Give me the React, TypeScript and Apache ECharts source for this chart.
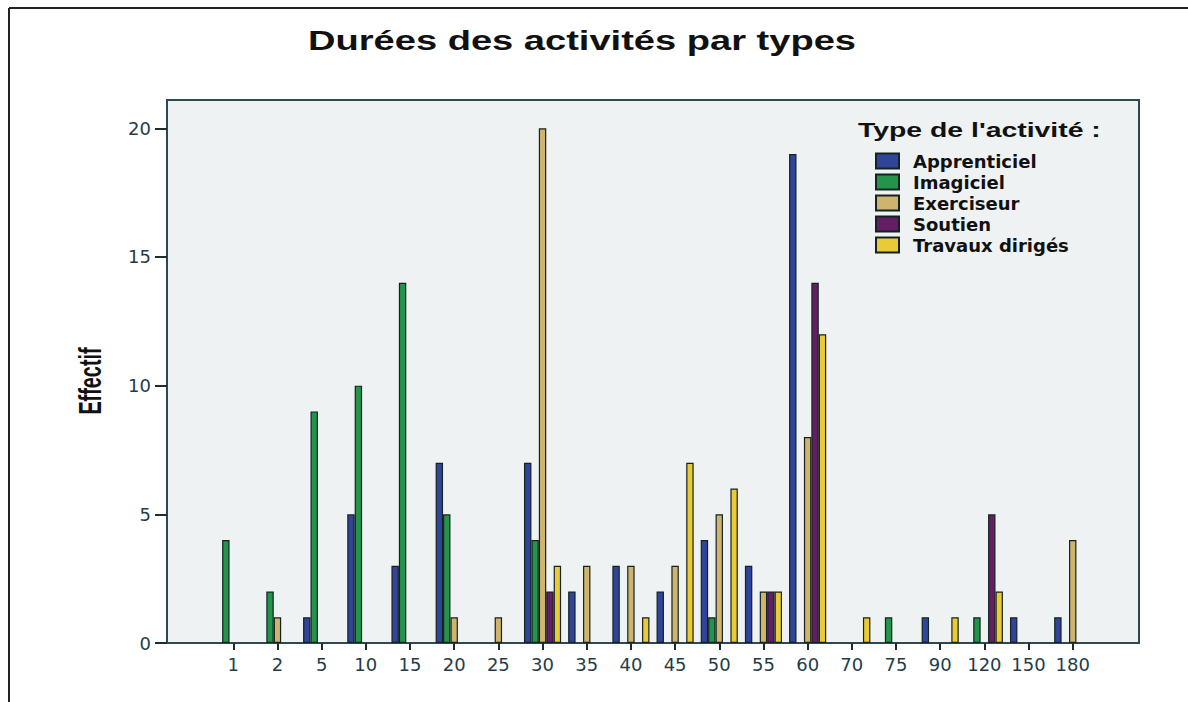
import React, { useEffect, useRef } from "react";
import * as echarts from "echarts";

const categories = ["1", "2", "5", "10", "15", "20", "25", "30", "35", "40", "45", "50", "55", "60", "70", "75", "90", "120", "150", "180"];
const seriesNames = ["Apprenticiel", "Imagiciel", "Exerciseur", "Soutien", "Travaux dirigés"];
const apprenticiel = [0, 0, 1, 5, 3, 7, 0, 7, 2, 3, 2, 4, 3, 19, 0, 0, 1, 0, 1, 1];
const imagiciel = [4, 2, 9, 10, 14, 5, 0, 4, 0, 0, 0, 1, 0, 0, 0, 1, 0, 1, 0, 0];
const exerciseur = [0, 1, 0, 0, 0, 1, 1, 20, 3, 3, 3, 5, 2, 8, 0, 0, 0, 0, 0, 4];
const soutien = [0, 0, 0, 0, 0, 0, 0, 2, 0, 0, 0, 0, 2, 14, 0, 0, 0, 5, 0, 0];
const travauxDiriges = [0, 0, 0, 0, 0, 0, 0, 3, 0, 1, 7, 6, 2, 12, 1, 0, 1, 2, 0, 0];
const yTicks = [0, 5, 10, 15, 20];
const colors = ["#30449a", "#24944a", "#cfb46e", "#641f64", "#e9cb35"];

const seriesValues = [apprenticiel, imagiciel, exerciseur, soutien, travauxDiriges];

export default function App() {
  const ref = useRef<HTMLDivElement>(null);
  useEffect(() => {
    if (!ref.current) return;
    const chart = echarts.init(ref.current, null, { renderer: "svg" });
    const axisData = ["", ...categories, ""];
    const last = axisData.length - 1;
    const axisColor = "#2c4a52";
    const labelColor = "#1f3d48";
    chart.setOption({
      animation: false,
      backgroundColor: "#ffffff",
      grid: {
        left: 167,
        right: 49,
        top: 100,
        bottom: 59,
        show: true,
        backgroundColor: "#eef2f3",
        borderColor: axisColor,
        borderWidth: 2,
        containLabel: false,
      },
      legend: {
        orient: "vertical",
        left: 870,
        top: 147,
        itemWidth: 23,
        itemHeight: 15,
        itemGap: 3,
        icon: "rect",
        data: seriesNames,
        textStyle: {
          fontFamily: "DejaVu Sans",
          fontWeight: "bold",
          fontSize: 18,
          color: "#111111",
          padding: [0, 0, 0, 9],
        },
      },
      xAxis: {
        type: "category",
        data: axisData,
        boundaryGap: true,
        axisLine: { show: true, lineStyle: { color: axisColor, width: 2 } },
        axisTick: {
          show: true,
          alignWithLabel: true,
          length: 7,
          interval: (i: number) => i > 0 && i < last,
          lineStyle: { color: "#1c2c30", width: 2 },
        },
        axisLabel: {
          interval: 0,
          margin: 12,
          fontFamily: "DejaVu Sans",
          fontSize: 18,
          color: labelColor,
        },
        splitLine: { show: false },
      },
      yAxis: {
        type: "value",
        min: yTicks[0],
        max: 21.1,
        interval: 5,
        axisLine: { show: true, lineStyle: { color: axisColor, width: 2 } },
        axisTick: { show: true, length: 12, lineStyle: { color: "#1c2c30", width: 2 } },
        axisLabel: {
          margin: 16,
          showMaxLabel: false,
          fontFamily: "DejaVu Sans",
          fontSize: 18,
          color: labelColor,
        },
        splitLine: { show: false },
      },
      series: seriesNames.map((name, k) => ({
        name,
        type: "bar",
        barGap: "0%",
        barCategoryGap: "16%",
        data: ["-", ...seriesValues[k].map((v) => (v === 0 ? "-" : v)), "-"],
        itemStyle: { color: colors[k], borderColor: "#142222", borderWidth: 1.2 },
      })),
      graphic: [
        {
          type: "line",
          shape: { x1: 9, y1: 8, x2: 1188, y2: 8 },
          style: { stroke: "#222222", lineWidth: 2 },
        },
        {
          type: "line",
          shape: { x1: 9, y1: 8, x2: 9, y2: 702 },
          style: { stroke: "#222222", lineWidth: 2 },
        },
        {
          type: "text",
          x: 582,
          y: 40,
          scaleX: 1.36,
          style: {
            text: "Durées des activités par types",
            fontFamily: "Liberation Sans",
            fontWeight: "bold",
            fontSize: 28,
            fill: "#111111",
            align: "center",
            verticalAlign: "middle",
            textAlign: "center",
            textVerticalAlign: "middle",
          },
        },
        {
          type: "text",
          x: 858,
          y: 130,
          scaleX: 1.42,
          style: {
            text: "Type de l'activité :",
            fontFamily: "Liberation Sans",
            fontWeight: "bold",
            fontSize: 20,
            fill: "#111111",
            align: "left",
            verticalAlign: "middle",
            textAlign: "left",
            textVerticalAlign: "middle",
          },
        },
        {
          type: "text",
          x: 90,
          y: 381,
          rotation: Math.PI / 2,
          scaleX: 0.62,
          style: {
            text: "Effectif",
            fontFamily: "Liberation Sans",
            fontWeight: "bold",
            fontSize: 32,
            fill: "#111111",
            align: "center",
            verticalAlign: "middle",
            textAlign: "center",
            textVerticalAlign: "middle",
          },
        },
      ],
    });
    return () => chart.dispose();
  }, []);
  return (
    <div
      ref={ref}
      style={{ position: "absolute", left: 0, top: 0, width: 1188, height: 702 }}
    />
  );
}
